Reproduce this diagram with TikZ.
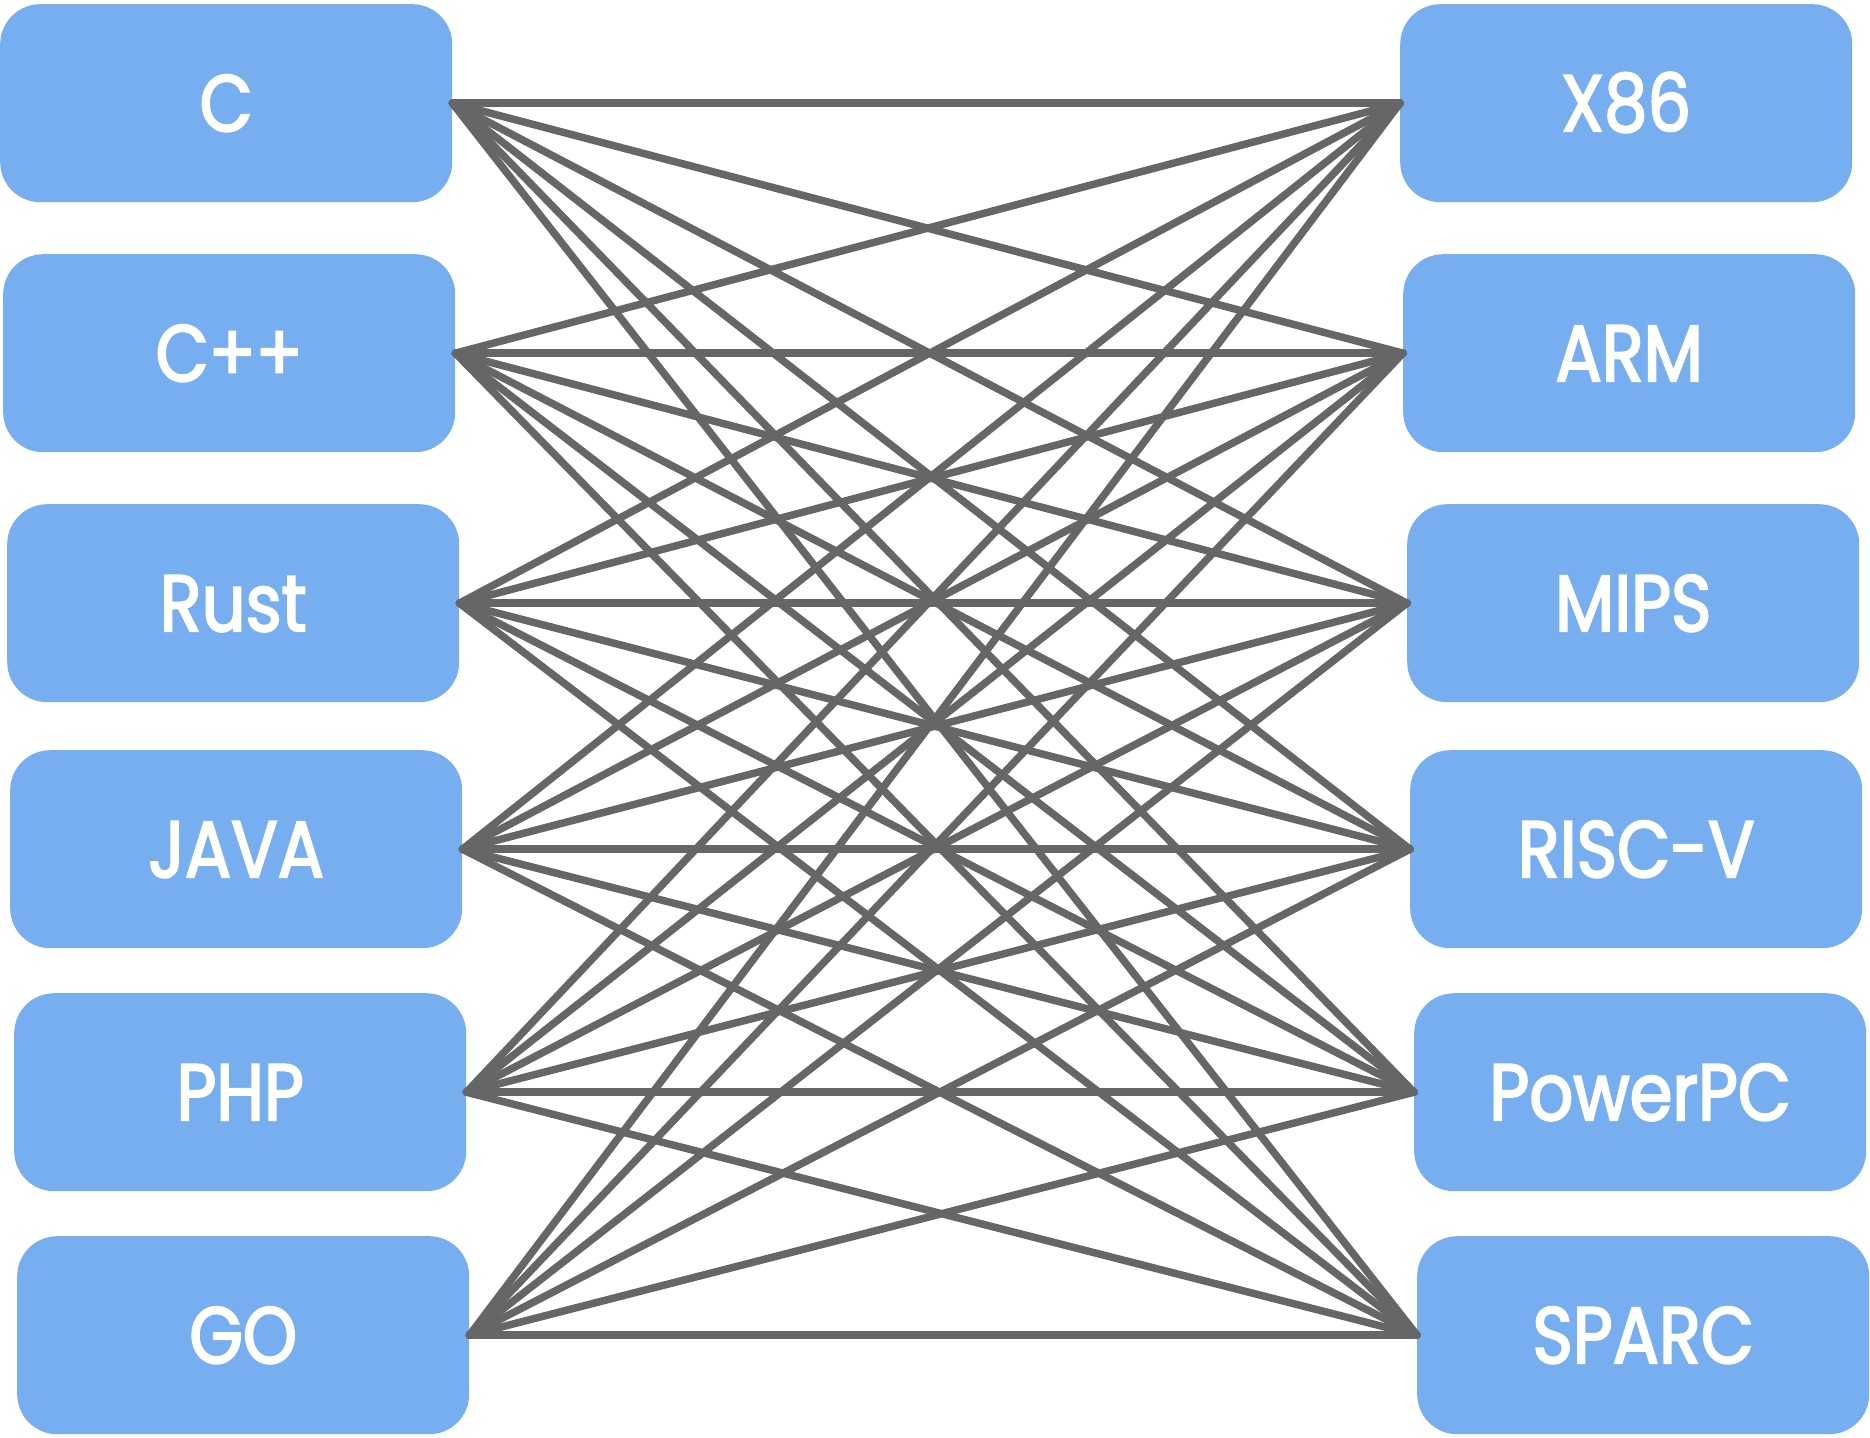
\documentclass[tikz,border=0pt]{standalone}
\usepackage{fontspec}
\newfontfamily\lblfont{Poppins}[FakeStretch=0.86, FakeBold=2.5]
\definecolor{boxblue}{RGB}{118,174,240}
\definecolor{linkgray}{RGB}{102,102,102}
\tikzset{
  box/.style={fill=boxblue, draw=none, rounded corners=40pt, minimum width=452pt,
    minimum height=198pt, inner sep=0pt, anchor=north west, text=white,
    font=\fontsize{80}{80}\lblfont, text height=56pt, text depth=0pt},
  link/.style={draw=linkgray, line width=7.5pt, line cap=round}
}
\begin{document}
\begin{tikzpicture}[x=1pt,y=-1pt]
\useasboundingbox (0,0) rectangle (1870,1437);
\node[box] (L1) at (0,4) {C};
\node[box] (L2) at (3,254) {C++};
\node[box] (L3) at (7,504) {Rust};
\node[box] (L4) at (10,750) {JAVA};
\node[box] (L5) at (14,993) {PHP};
\node[box] (L6) at (17,1236) {GO};
\node[box] (R1) at (1400,4) {X86};
\node[box] (R2) at (1403,254) {ARM};
\node[box] (R3) at (1407,504) {MIPS};
\node[box] (R4) at (1410,750) {RISC-V};
\node[box] (R5) at (1414,993) {PowerPC};
\node[box] (R6) at (1417,1236) {SPARC};
\foreach \a in {L1,L2,L3,L4,L5,L6}
  \foreach \b in {R1,R2,R3,R4,R5,R6}
    \draw[link] (\a.east) -- (\b.west);
\end{tikzpicture}
\end{document}
